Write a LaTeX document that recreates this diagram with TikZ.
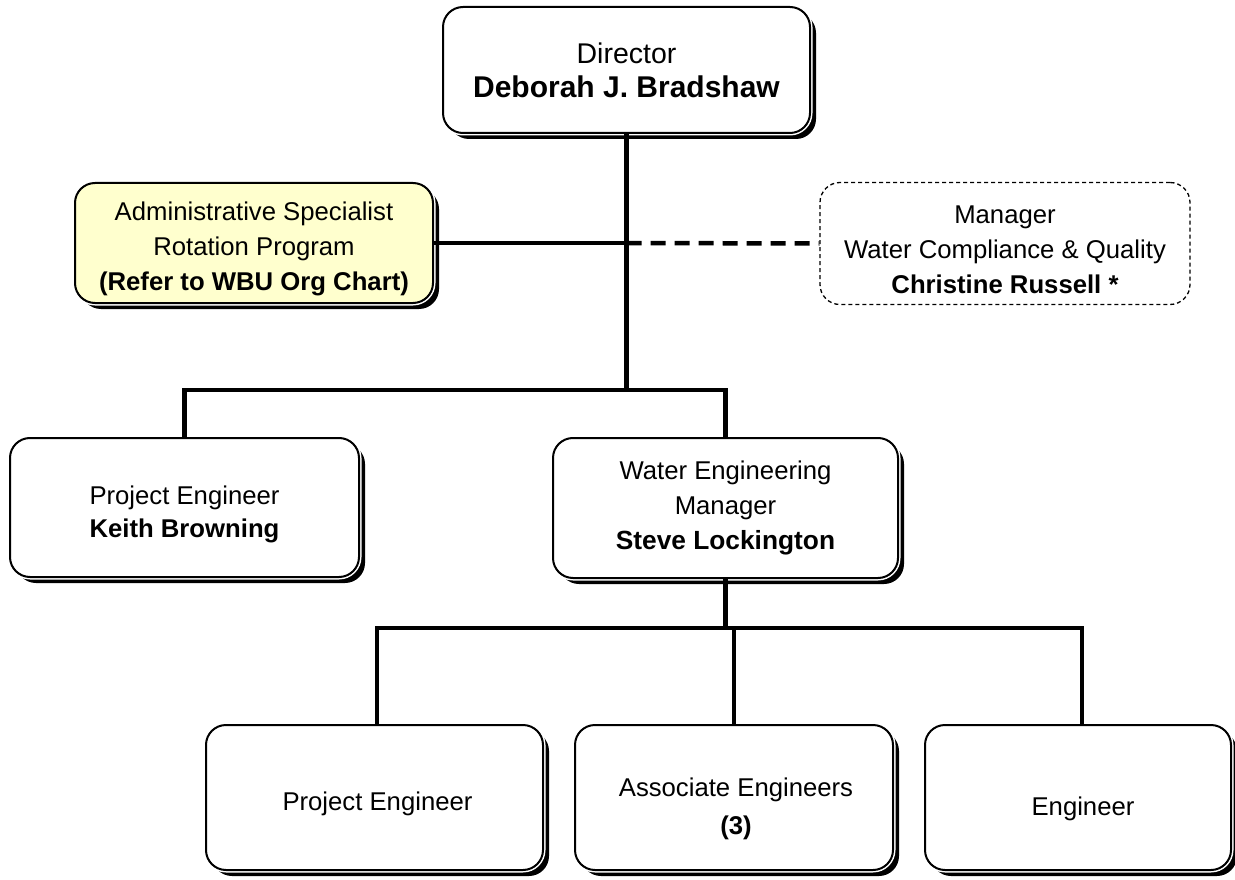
\documentclass[tikz,border=0pt]{standalone}
\usepackage{fontspec}
\setmainfont{Liberation Sans}
\usetikzlibrary{shadows}
\definecolor{paleyellow}{RGB}{255,255,206}
\tikzset{
  orgbox/.style={draw=black, line width=2pt, fill=white, rounded corners=20pt,
    inner sep=0pt,
    drop shadow={shadow xshift=6pt, shadow yshift=-6pt, fill=black, opacity=1},
    preaction={draw=white, line width=5pt}},
  dashbox/.style={draw=black, line width=1.3pt, dash pattern=on 4pt off 3pt, fill=white,
    rounded corners=20pt, inner sep=0pt},
  txt/.style={inner sep=0pt, align=center, font=\fontsize{25.7pt}{35pt}\selectfont},
  conn/.style={line width=4.5pt, line join=miter},
  dashconn/.style={line width=4.5pt, dash pattern=on 15pt off 9pt}
}
\begin{document}
\begin{tikzpicture}[x=1pt,y=-1pt]
\useasboundingbox (0,0) rectangle (1235,880);
\fill[white] (0,0) rectangle (1235,880);

% boxes
\node[orgbox, minimum width=367pt, minimum height=126pt] (dir) at (626.5,70) {};
\node[orgbox, fill=paleyellow, minimum width=358pt, minimum height=120pt] (adm) at (254,243) {};
\node[dashbox, minimum width=370pt, minimum height=122pt] (mgr) at (1005,243.5) {};
\node[orgbox, minimum width=349pt, minimum height=139pt] (keith) at (184.5,507.5) {};
\node[orgbox, minimum width=345pt, minimum height=140pt] (wem) at (725.5,508) {};
\node[orgbox, minimum width=337pt, minimum height=145pt] (pe) at (374.5,797.5) {};
\node[orgbox, minimum width=318pt, minimum height=145pt] (ae) at (734,797.5) {};
\node[orgbox, minimum width=306pt, minimum height=145pt] (eng) at (1078,797.5) {};

% texts
\node[txt, font=\fontsize{28.5pt}{34pt}\selectfont] (dir-t) at (dir.center)
  {Director\\\fontsize{30pt}{34pt}\selectfont\textbf{Deborah J. Bradshaw}};
\node[txt, yshift=-6pt] (adm-t) at (adm.center)
  {Administrative Specialist\\Rotation Program\\\textbf{(Refer to WBU Org Chart)}};
\node[txt, yshift=-6pt] (mgr-t) at (mgr.center)
  {Manager\\Water Compliance \& Quality\\\textbf{Christine Russell *}};
\node[txt, yshift=-7pt, font=\fontsize{25.7pt}{33pt}\selectfont] (keith-t) at (keith.center)
  {Project Engineer\\\textbf{Keith Browning}};
\node[txt] (wem-t) at (wem.center)
  {Water Engineering\\Manager\\\fontsize{26.3pt}{35pt}\selectfont\textbf{Steve Lockington}};
\node[txt, yshift=-6pt, xshift=3pt] (pe-t) at (pe.center) {Project Engineer};
\node[txt, yshift=-11pt, xshift=2pt, font=\fontsize{25.7pt}{38pt}\selectfont] (ae-t) at (ae.center)
  {Associate Engineers\\\textbf{(3)}};
\node[txt, yshift=-11pt, xshift=5pt] (eng-t) at (eng.center) {Engineer};

% connectors
\coordinate (tj) at (626.5,390);
\coordinate (bj) at (725.5,628);

\draw[conn] (dir.south) -- (tj);
\draw[conn] (keith.north) |- (tj) -| (wem.north);
\draw[conn] (adm.east) -- (adm.east -| dir.south);
\draw[dashconn] (adm.east -| dir.south) -- (mgr.west);
\draw[conn] (wem.south) -- (bj);
\draw[conn] ([xshift=2.5pt]pe.north) |- (bj) -| ([xshift=4pt]eng.north);
\draw[conn] (ae.north) -- (ae.north |- bj);
\end{tikzpicture}
\end{document}
